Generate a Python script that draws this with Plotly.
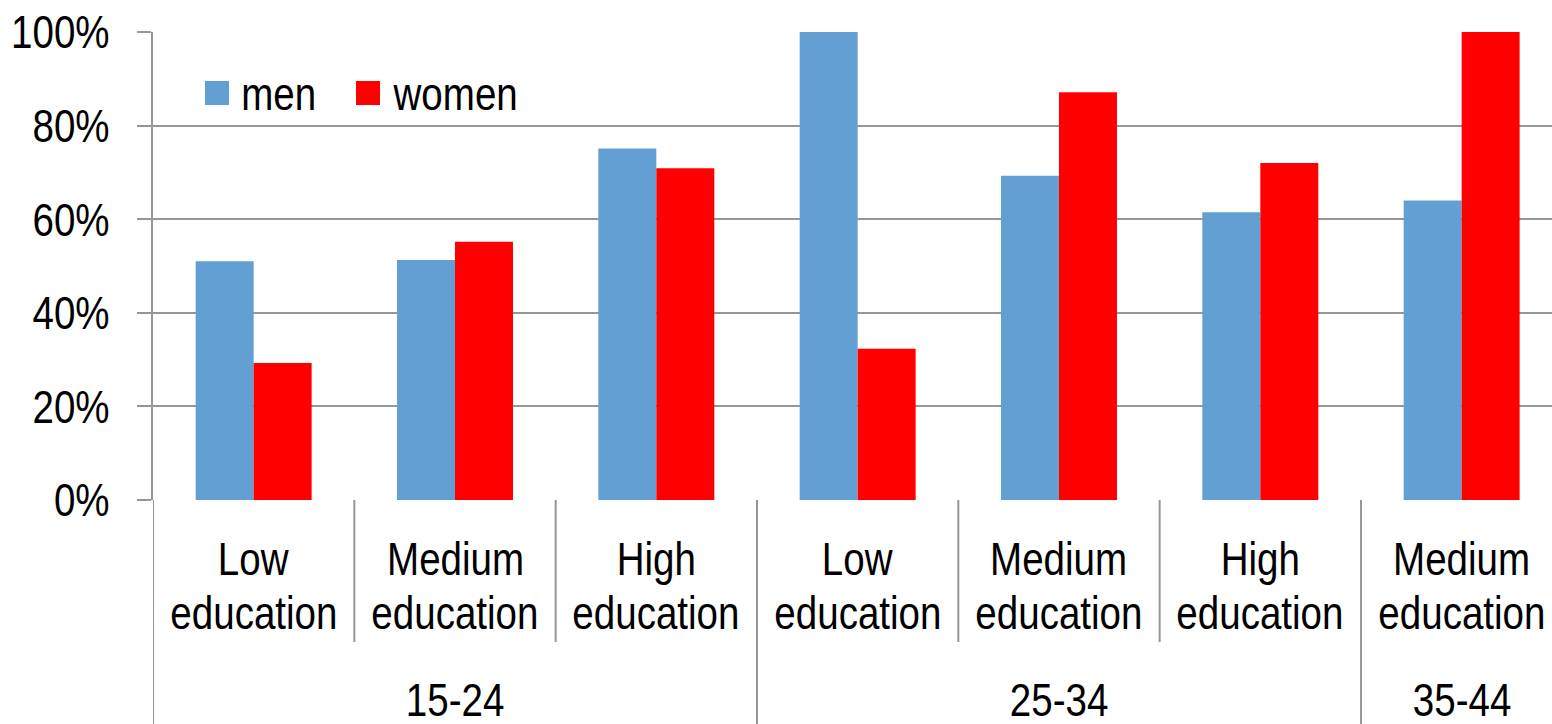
import plotly.graph_objects as go

# ---- data ----
education = ["Low", "Medium", "High", "Low", "Medium", "High", "Medium"]
age_groups = ["15-24", "25-34", "35-44"]
age_group_of_cat = [0, 0, 0, 1, 1, 1, 2]
men = [51.0, 51.3, 75.1, 100.0, 69.3, 61.5, 64.0]
women = [29.3, 55.2, 70.9, 32.3, 87.1, 72.0, 100.0]
series_names = ["men", "women"]
y_ticks = [0, 20, 40, 60, 80, 100]

# ---- layout constants ----
W, H = 1552, 724
L, R, T, B = 153, 0, 32, 224
PW = W - L - R
PH = H - T - B
FONT = "Liberation Sans, Arial, sans-serif"
FS = 47
BLUE = "#629FD3"
RED = "#FF0000"
GRID = "#969696"

def xp(px):
    return (px - L) / PW

def yp(py):
    return (H - B - py) / PH

x = list(range(len(education)))

fig = go.Figure()
fig.add_trace(go.Bar(x=x, y=men, name=series_names[0], marker=dict(color=BLUE, line=dict(width=0))))
fig.add_trace(go.Bar(x=x, y=women, name=series_names[1], marker=dict(color=RED, line=dict(width=0))))

cat_w = 201.33
x_max = -0.5 + PW / cat_w

shapes = []
annotations = []

# category dividers below the axis
for i in range(len(education) + 1):
    bx = i - 0.5
    if bx > x_max:
        continue
    is_group_edge = (i == 0) or (i == len(education)) or (age_group_of_cat[i] != age_group_of_cat[i - 1])
    y_end = yp(H) if is_group_edge else yp(642)
    shapes.append(dict(type="line", xref="x", yref="paper", x0=bx, x1=bx, y0=0, y1=y_end,
                       line=dict(color=GRID, width=2), layer="above"))

txtfont = dict(family=FONT, size=FS, color="black")

# category labels
for i, ed in enumerate(education):
    annotations.append(dict(x=i, y=yp(558), xref="x", yref="paper", text=ed, showarrow=False,
                            xanchor="center", yanchor="middle", font=txtfont))
    annotations.append(dict(x=i, y=yp(612), xref="x", yref="paper", text="education", showarrow=False,
                            xanchor="center", yanchor="middle", font=txtfont))

# age group labels
for g, name in enumerate(age_groups):
    idx = [i for i, a in enumerate(age_group_of_cat) if a == g]
    cx = (idx[0] + idx[-1]) / 2
    annotations.append(dict(x=cx, y=yp(699), xref="x", yref="paper", text=name, showarrow=False,
                            xanchor="center", yanchor="middle", height=44, valign="middle",
                            font=txtfont))

# legend (drawn)
leg = [(series_names[0], BLUE, 205, 278.5), (series_names[1], RED, 356, 455)]
for name, col, sx, tcx in leg:
    shapes.append(dict(type="rect", xref="paper", yref="paper", x0=xp(sx), x1=xp(sx + 24),
                       y0=yp(105), y1=yp(81), fillcolor=col, line=dict(width=0), layer="above"))
    annotations.append(dict(x=xp(tcx), y=yp(93), xref="paper", yref="paper", text=name, showarrow=False,
                            xanchor="center", yanchor="middle", font=txtfont))

fig.update_layout(
    width=W, height=H,
    margin=dict(l=L, r=R, t=T, b=B, pad=0, autoexpand=False),
    paper_bgcolor="white", plot_bgcolor="white",
    barmode="group", bargap=0.424, bargroupgap=0,
    showlegend=False,
    shapes=shapes, annotations=annotations,
    font=dict(family=FONT, size=FS, color="black"),
    xaxis=dict(range=[-0.5, x_max], showticklabels=False, showgrid=False, zeroline=False,
               showline=False, ticks="", fixedrange=True, automargin=False),
    yaxis=dict(range=[0, 100], tickvals=y_ticks, ticktext=[f"{v}%" for v in y_ticks],
               showgrid=True, gridcolor=GRID, gridwidth=2, zeroline=False,
               showline=True, linecolor=GRID, linewidth=2,
               ticks="outside", ticklen=14, tickcolor=GRID, tickwidth=2,
               ticklabelstandoff=18, automargin=False,
               tickfont=dict(family=FONT, size=FS, color="black"), fixedrange=True),
)

# Narrow the text horizontally (the reference uses a condensed face, Arial Narrow)
post = """
var s = document.createElement('style');
s.textContent = '.annotation-text{transform-box:fill-box;transform-origin:center;transform:scaleX(0.82);}'
 + ' g.ytick{transform-box:fill-box;transform-origin:right center;transform:scaleX(0.82);}';
document.head.appendChild(s);
"""

fig.write_html("out.html", post_script=post)
